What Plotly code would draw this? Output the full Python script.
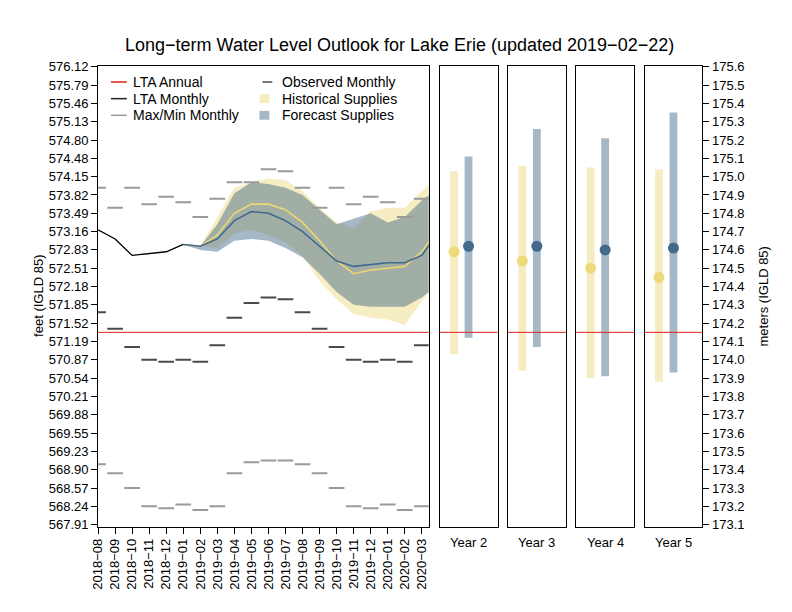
import plotly.graph_objects as go

W, H = 792, 612
FONT = "Liberation Sans, Arial, Helvetica, sans-serif"

# ---------------- data ----------------
month_labels = ["2018−08", "2018−09", "2018−10", "2018−11", "2018−12", "2019−01",
                "2019−02", "2019−03", "2019−04", "2019−05", "2019−06", "2019−07",
                "2019−08", "2019−09", "2019−10", "2019−11", "2019−12", "2020−01",
                "2020−02", "2020−03", "2020−04"]
n_axis_months = 20          # months labelled on the x axis
start_calendar_month = 8    # 2018-08

# observed monthly levels (m, IGLD 85), 2018-08 .. 2019-01
observed = [174.71, 174.66, 174.57, 174.58, 174.59, 174.63]

# outlook, 2019-01 .. 2020-04
outlook_start = "2019−01"
forecast_median = [174.63, 174.62, 174.66, 174.76, 174.81, 174.80, 174.76, 174.70,
                   174.62, 174.54, 174.51, 174.52, 174.53, 174.53, 174.57, 174.70]
forecast_upper = [174.63, 174.62, 174.74, 174.91, 174.97, 174.96, 174.94, 174.90,
                  174.82, 174.74, 174.77, 174.80, 174.75, 174.78, 174.87, 174.94]
forecast_lower = [174.63, 174.60, 174.59, 174.65, 174.66, 174.65, 174.61, 174.56,
                  174.47, 174.37, 174.30, 174.29, 174.29, 174.29, 174.34, 174.41]
historical_median = [174.63, 174.62, 174.68, 174.80, 174.85, 174.85, 174.82, 174.75,
                     174.65, 174.54, 174.47, 174.49, 174.50, 174.51, 174.59, 174.72]
historical_upper = [174.63, 174.62, 174.78, 174.94, 174.97, 174.99, 174.98, 174.92,
                    174.83, 174.75, 174.72, 174.81, 174.83, 174.83, 174.92, 175.00]
historical_lower = [174.63, 174.62, 174.61, 174.69, 174.71, 174.68, 174.64, 174.57,
                    174.43, 174.33, 174.25, 174.23, 174.22, 174.19, 174.32, 174.44]

# calendar-month statistics, Jan .. Dec
max_monthly = [174.86, 174.78, 174.88, 174.97, 174.97, 175.04,
               175.03, 174.94, 174.83, 174.94, 174.85, 174.89]
lta_monthly = [174.00, 173.99, 174.08, 174.23, 174.31, 174.34,
               174.33, 174.26, 174.17, 174.07, 174.00, 173.99]
min_monthly = [173.21, 173.18, 173.20, 173.38, 173.44, 173.45,
               173.45, 173.43, 173.38, 173.30, 173.20, 173.19]
lta_annual = 174.15

# long-term outlook panels
year_labels = ["Year 2", "Year 3", "Year 4", "Year 5"]
yr_hist_high = [175.03, 175.06, 175.05, 175.04]
yr_hist_low = [174.03, 173.94, 173.90, 173.88]
yr_hist_mid = [174.59, 174.54, 174.50, 174.45]
yr_fc_high = [175.11, 175.26, 175.21, 175.35]
yr_fc_low = [174.12, 174.07, 173.91, 173.93]
yr_fc_mid = [174.62, 174.62, 174.60, 174.61]

# axis ticks
meter_ticks = [173.1, 173.2, 173.3, 173.4, 173.5, 173.6, 173.7, 173.8, 173.9, 174.0,
               174.1, 174.2, 174.3, 174.4, 174.5, 174.6, 174.7, 174.8, 174.9, 175.0,
               175.1, 175.2, 175.3, 175.4, 175.5, 175.6]
feet_labels = ["567.91", "568.24", "568.57", "568.90", "569.23", "569.55", "569.88",
               "570.21", "570.54", "570.87", "571.19", "571.52", "571.85", "572.18",
               "572.51", "572.83", "573.16", "573.49", "573.82", "574.15", "574.48",
               "574.80", "575.13", "575.46", "575.79", "576.12"]
meter_labels = ["%.1f" % v for v in meter_ticks]

# ---------------- styles ----------------
C_RED = "#e0201b"
C_HIST_FILL = "rgba(235,215,120,0.45)"
C_FC_FILL = "rgba(55,97,131,0.45)"
C_HIST_LINE = "#eed672"
C_FC_LINE = "#3f6a8e"
C_HIST_BAR = "#f5ecc1"
C_FC_BAR = "#a6b8c6"
C_HIST_DOT = "#eeda7a"
C_FC_DOT = "#436a8b"
C_MAXMIN = "#9a9a9a"
C_LTA_M = "#4a4a4a"
DASH_HALF = 0.46


def px_x(p):
    return p / W


def px_y(p):
    return 1 - p / H


fig = go.Figure()
idx = {m: i for i, m in enumerate(month_labels)}
o0 = idx[outlook_start]
fx = list(range(o0, o0 + len(forecast_median)))


def band(upper, lower, color):
    return go.Scatter(x=fx + fx[::-1], y=list(upper) + list(lower)[::-1],
                      mode="lines", fill="toself", fillcolor=color,
                      line=dict(width=0), hoverinfo="skip", showlegend=False,
                      xaxis="x", yaxis="y")


def dashes(values, color):
    xs, ys = [], []
    for i in range(n_axis_months):
        cal = (start_calendar_month - 1 + i) % 12
        xs += [i - DASH_HALF, i + DASH_HALF, None]
        ys += [values[cal], values[cal], None]
    return go.Scatter(x=xs, y=ys, mode="lines", line=dict(color=color, width=2),
                      hoverinfo="skip", showlegend=False, xaxis="x", yaxis="y")


fig.add_trace(band(historical_upper, historical_lower, C_HIST_FILL))
fig.add_trace(band(forecast_upper, forecast_lower, C_FC_FILL))
fig.add_trace(dashes(max_monthly, C_MAXMIN))
fig.add_trace(dashes(min_monthly, C_MAXMIN))
fig.add_trace(dashes(lta_monthly, C_LTA_M))
fig.add_trace(go.Scatter(x=fx, y=historical_median, mode="lines",
                         line=dict(color=C_HIST_LINE, width=1.6), showlegend=False,
                         xaxis="x", yaxis="y"))
fig.add_trace(go.Scatter(x=fx, y=forecast_median, mode="lines",
                         line=dict(color=C_FC_LINE, width=1.6), showlegend=False,
                         xaxis="x", yaxis="y"))
fig.add_trace(go.Scatter(x=list(range(len(observed))), y=observed, mode="lines",
                         line=dict(color="black", width=1.3), showlegend=False,
                         xaxis="x", yaxis="y"))

# panels
HIST_X, FC_X, BAR_W = -0.5, 0.0, 0.27
for k in range(len(year_labels)):
    xa, ya = "x%d" % (k + 2), "y%d" % (k + 2)
    fig.add_trace(go.Bar(x=[HIST_X], y=[yr_hist_high[k] - yr_hist_low[k]],
                         base=[yr_hist_low[k]], width=BAR_W, marker_color=C_HIST_BAR,
                         marker_line_width=0, showlegend=False, xaxis=xa, yaxis=ya))
    fig.add_trace(go.Bar(x=[FC_X], y=[yr_fc_high[k] - yr_fc_low[k]],
                         base=[yr_fc_low[k]], width=BAR_W, marker_color=C_FC_BAR,
                         marker_line_width=0, showlegend=False, xaxis=xa, yaxis=ya))
    fig.add_trace(go.Scatter(x=[HIST_X, FC_X], y=[yr_hist_mid[k], yr_fc_mid[k]],
                             mode="markers",
                             marker=dict(size=11, color=[C_HIST_DOT, C_FC_DOT]),
                             showlegend=False, xaxis=xa, yaxis=ya))

# ---------------- layout ----------------
yrange = [173.1 - 2 / 186.8, 175.6 + 1 / 186.8]
ydom = [px_y(531), px_y(61)]
main_dom = [px_x(91), px_x(425)]
panel_doms = [[436, 494.5], [505, 563.5], [574, 632.5], [643, 701.5]]

axis_common = dict(showline=True, linecolor="black", linewidth=1, mirror=True,
                   showgrid=False, zeroline=False, fixedrange=True)
tickfont = dict(family=FONT, size=13, color="black")

layout = dict(
    width=W, height=H, autosize=False,
    margin=dict(l=0, r=0, t=0, b=0),
    paper_bgcolor="white", plot_bgcolor="white",
    font=dict(family=FONT, size=13, color="black"),
    showlegend=False, barmode="overlay",
    xaxis=dict(domain=main_dom, range=[0, (425 - 91) / ((418 - 91) / 19)],
               tickmode="array", tickvals=list(range(n_axis_months)),
               ticktext=month_labels[:n_axis_months], tickangle=-90,
               ticks="outside", ticklen=6, tickcolor="black", tickfont=tickfont,
               anchor="y", **axis_common),
    yaxis=dict(domain=ydom, range=yrange, tickmode="array", tickvals=meter_ticks,
               ticktext=feet_labels, ticks="outside", ticklen=6, tickcolor="black",
               tickfont=tickfont, anchor="x", **axis_common),
)
for k, (a, b) in enumerate(panel_doms):
    n = k + 2
    layout["xaxis%d" % n] = dict(domain=[px_x(a), px_x(b)], range=[-1, 1],
                                 showticklabels=False, ticks="", anchor="y%d" % n,
                                 **axis_common)
    ycfg = dict(domain=ydom, range=yrange, anchor="x%d" % n, **axis_common)
    if n == 5:
        ycfg.update(side="right", tickmode="array", tickvals=meter_ticks,
                    ticktext=meter_labels, ticks="outside", ticklen=6,
                    tickcolor="black", tickfont=tickfont, showticklabels=True)
    else:
        ycfg.update(showticklabels=False, ticks="")
    layout["yaxis%d" % n] = ycfg
fig.update_layout(**layout)

# LTA annual line in every subplot
shapes = []
for xr, yr in [("x", "y"), ("x2", "y2"), ("x3", "y3"), ("x4", "y4"), ("x5", "y5")]:
    shapes.append(dict(type="line", xref=xr + " domain", yref=yr, x0=0, x1=1,
                       y0=lta_annual, y1=lta_annual, layer="above",
                       line=dict(color=C_RED, width=1)))

# manual legend
legend_rows = [77.5, 94.5, 111.5]
col1 = [("LTA Annual", C_RED), ("LTA Monthly", "#222222"), ("Max/Min Monthly", C_MAXMIN)]
col2 = [("Observed Monthly", "line"), ("Historical Supplies", C_HIST_BAR),
        ("Forecast Supplies", C_FC_BAR)]
annotations = []
for (label, color), yy in zip(col1, legend_rows):
    shapes.append(dict(type="line", xref="paper", yref="paper", x0=px_x(104), x1=px_x(120),
                       y0=px_y(yy), y1=px_y(yy), line=dict(color=color, width=1.5)))
    annotations.append(dict(x=px_x(124.5), y=px_y(yy), xref="paper", yref="paper",
                            text=label, showarrow=False, xanchor="left", yanchor="middle",
                            font=dict(family=FONT, size=14, color="black")))
for (label, kind), yy in zip(col2, legend_rows):
    if kind == "line":
        shapes.append(dict(type="line", xref="paper", yref="paper", x0=px_x(257),
                           x1=px_x(267), y0=px_y(yy), y1=px_y(yy),
                           line=dict(color="#777777", width=2)))
    else:
        shapes.append(dict(type="rect", xref="paper", yref="paper", x0=px_x(254),
                           x1=px_x(264), y0=px_y(yy - 4.5), y1=px_y(yy + 4.5),
                           fillcolor=kind, line=dict(width=0)))
    annotations.append(dict(x=px_x(275), y=px_y(yy), xref="paper", yref="paper",
                            text=label, showarrow=False, xanchor="left", yanchor="middle",
                            font=dict(family=FONT, size=14, color="black")))

annotations.append(dict(x=px_x(395), y=px_y(40), xref="paper", yref="paper",
                        text="Long−term Water Level Outlook for Lake Erie (updated 2019−02−22)",
                        showarrow=False, xanchor="center", yanchor="middle",
                        font=dict(family=FONT, size=18, color="black")))
annotations.append(dict(x=px_x(31), y=px_y(296), xref="paper", yref="paper",
                        text="feet (IGLD 85)", textangle=-90, showarrow=False,
                        xanchor="center", yanchor="middle",
                        font=dict(family=FONT, size=13, color="black")))
annotations.append(dict(x=px_x(763), y=px_y(296), xref="paper", yref="paper",
                        text="meters (IGLD 85)", textangle=-90, showarrow=False,
                        xanchor="center", yanchor="middle",
                        font=dict(family=FONT, size=13, color="black")))
for k, (a, b) in enumerate(panel_doms):
    annotations.append(dict(x=px_x((a + b) / 2), y=px_y(547), xref="paper", yref="paper",
                            text=year_labels[k], showarrow=False, xanchor="center",
                            yanchor="middle",
                            font=dict(family=FONT, size=13, color="black")))

fig.update_layout(shapes=shapes, annotations=annotations)
fig.write_html("out.html", config={"displayModeBar": False, "staticPlot": True},
               post_script="document.body.style.margin='0';document.body.style.padding='0';")
